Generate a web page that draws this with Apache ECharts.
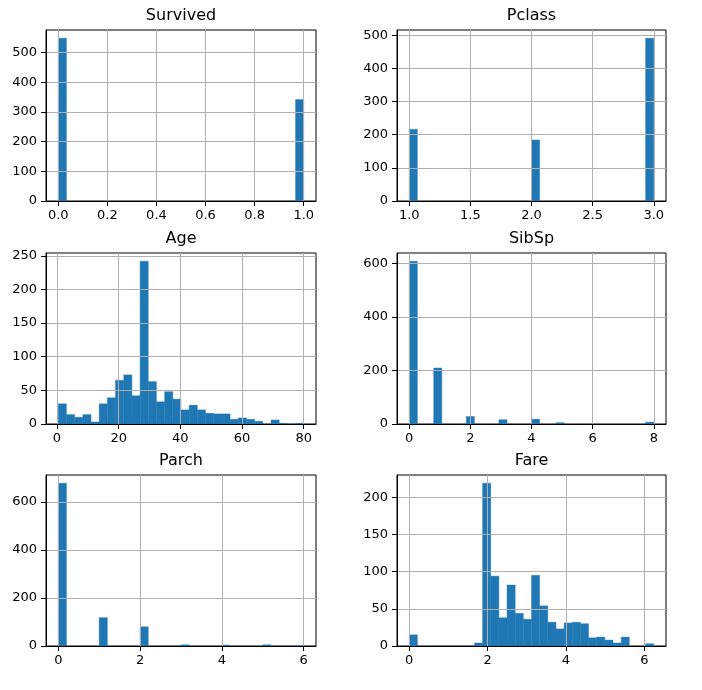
<!DOCTYPE html>
<html><head><meta charset="utf-8">
<script src="https://cdn.jsdelivr.net/npm/echarts@6/dist/echarts.min.js"></script>
<style>html,body{margin:0;padding:0;background:#fff}#c{width:702px;height:690px}</style>
</head><body><div id="c"></div>
<script>
// ---- data (30-bin histograms) ----
const panelTitles = ['Survived', 'Pclass', 'Age', 'SibSp', 'Parch', 'Fare'];

const survivedRange = [0, 1];
const survivedCounts = [549,0,0,0,0,0,0,0,0,0,0,0,0,0,0,0,0,0,0,0,0,0,0,0,0,0,0,0,0,342];
const survivedXTicks = [0, 0.2, 0.4, 0.6, 0.8, 1.0];
const survivedYTicks = [0, 100, 200, 300, 400, 500];

const pclassRange = [1, 3];
const pclassCounts = [216,0,0,0,0,0,0,0,0,0,0,0,0,0,0,184,0,0,0,0,0,0,0,0,0,0,0,0,0,491];
const pclassXTicks = [1.0, 1.5, 2.0, 2.5, 3.0];
const pclassYTicks = [0, 100, 200, 300, 400, 500];

const ageRange = [0.42, 80];
const ageCounts = [30,14,10,14,3,30,39,65,73,42,242,63,33,48,37,21,28,21,16,15,15,7,9,7,4,0,6,1,0,1];
const ageXTicks = [0, 20, 40, 60, 80];
const ageYTicks = [0, 50, 100, 150, 200, 250];

const sibspRange = [0, 8];
const sibspCounts = [608,0,0,209,0,0,0,28,0,0,0,16,0,0,0,18,0,0,5,0,0,0,0,0,0,0,0,0,0,7];
const sibspXTicks = [0, 2, 4, 6, 8];
const sibspYTicks = [0, 200, 400, 600];

const parchRange = [0, 6];
const parchCounts = [678,0,0,0,0,118,0,0,0,0,80,0,0,0,0,5,0,0,0,0,4,0,0,0,0,5,0,0,0,1];
const parchXTicks = [0, 2, 4, 6];
const parchYTicks = [0, 200, 400, 600];

const fareRange = [0, 6.2409];
const fareCounts = [15,0,0,0,0,0,0,0,4,219,94,38,82,44,36,95,54,32,23,31,32,30,11,12,8,4,12,0,0,3];
const fareXTicks = [0, 2, 4, 6];
const fareYTicks = [0, 50, 100, 150, 200];

// ---- layout ----
const panels = [
  {range: survivedRange, counts: survivedCounts, xt: survivedXTicks, yt: survivedYTicks, dec: 1},
  {range: pclassRange, counts: pclassCounts, xt: pclassXTicks, yt: pclassYTicks, dec: 1},
  {range: ageRange, counts: ageCounts, xt: ageXTicks, yt: ageYTicks, dec: 0},
  {range: sibspRange, counts: sibspCounts, xt: sibspXTicks, yt: sibspYTicks, dec: 0},
  {range: parchRange, counts: parchCounts, xt: parchXTicks, yt: parchYTicks, dec: 0},
  {range: fareRange, counts: fareCounts, xt: fareXTicks, yt: fareYTicks, dec: 0}
];
const colLeft = [46, 397], colWidth = [270, 269];
const rowTop = [30, 253, 475], rowHeight = 171;
const titleTop = [8, 231, 453];
const FONT = 'DejaVu Sans';

const grid = [], xAxis = [], yAxis = [], series = [], title = [];
panels.forEach((p, i) => {
  const col = i % 2, row = Math.floor(i / 2);
  grid.push({left: colLeft[col], top: rowTop[row], width: colWidth[col], height: rowHeight,
    show: true, borderColor: '#000', borderWidth: 1, backgroundColor: '#fff', containLabel: false});
  title.push({text: panelTitles[i], left: colLeft[col] + colWidth[col] / 2, top: titleTop[row],
    textAlign: 'center', padding: 0,
    textStyle: {fontFamily: FONT, fontSize: 16, fontWeight: 'normal', color: '#000'}});
  const pad = (p.range[1] - p.range[0]) * 0.05;
  const ymax = Math.max(...p.counts) * 1.05;
  const dec = p.dec;
  xAxis.push({type: 'value', gridIndex: i, min: p.range[0] - pad, max: p.range[1] + pad, z: 3,
    splitNumber: 5,
    axisLine: {show: true, onZero: false, lineStyle: {color: '#000', width: 1}},
    axisTick: {show: true, inside: false, length: 5, lineStyle: {color: '#000', width: 1}, customValues: p.xt},
    axisLabel: {customValues: p.xt, color: '#000', fontFamily: FONT, fontSize: 13, margin: 8,
      formatter: v => v.toFixed(dec)},
    splitLine: {show: true, lineStyle: {color: '#b0b0b0', width: 1}}
  });
  yAxis.push({type: 'value', gridIndex: i, min: 0, max: ymax, z: 3,
    axisLine: {show: true, onZero: false, lineStyle: {color: '#000', width: 1}},
    axisTick: {show: true, inside: false, length: 5, lineStyle: {color: '#000', width: 1}, customValues: p.yt},
    axisLabel: {customValues: p.yt, color: '#000', fontFamily: FONT, fontSize: 13, margin: 9,
      formatter: v => String(Math.round(v))},
    splitLine: {show: true, lineStyle: {color: '#b0b0b0', width: 1}}
  });
  const n = p.counts.length, w = (p.range[1] - p.range[0]) / n;
  const data = p.counts.map((c, k) => [p.range[0] + w * k, p.range[0] + w * (k + 1), c]);
  series.push({type: 'custom', xAxisIndex: i, yAxisIndex: i, z: 2, silent: true,
    encode: {x: [0, 1], y: 2},
    data: data,
    renderItem: (params, api) => {
      const a = api.coord([api.value(0), 0]);
      const b = api.coord([api.value(1), api.value(2)]);
      if (api.value(2) <= 0) return null;
      return {type: 'rect', shape: {x: a[0], y: b[1], width: b[0] - a[0], height: a[1] - b[1]},
        style: {fill: '#1f77b4', stroke: '#1f77b4', lineWidth: 0.4}};
    }
  });
});

const chart = echarts.init(document.getElementById('c'), null, {renderer: 'canvas'});
chart.setOption({animation: false, backgroundColor: '#fff', title, grid, xAxis, yAxis, series});
</script>
</body></html>
